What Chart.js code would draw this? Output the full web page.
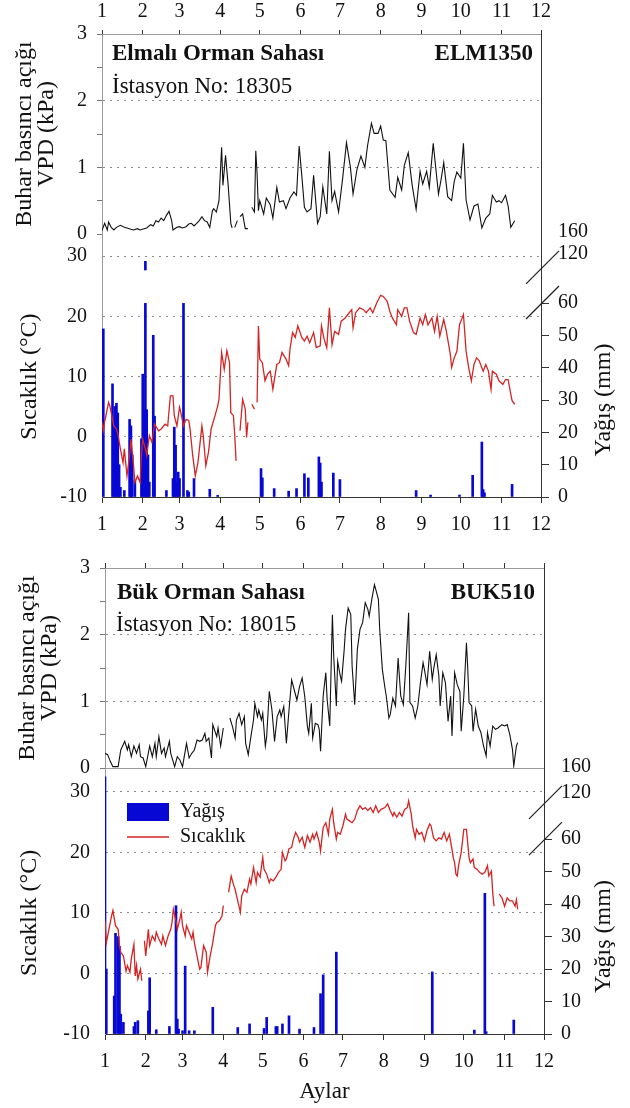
<!DOCTYPE html>
<html>
<head>
<meta charset="utf-8">
<script src="https://cdn.jsdelivr.net/npm/chart.js@4.4.1/dist/chart.umd.min.js"></script>
<style>
  body { margin: 0; background: #fff; }
  canvas { position: absolute; left: 0; }
</style>
</head>
<body>
<canvas id="elmVpdChart" width="630" height="250" style="top:0px"></canvas>
<canvas id="elmClimChart" width="630" height="320" style="top:212px"></canvas>
<canvas id="bukVpdChart" width="630" height="234" style="top:550px"></canvas>
<canvas id="bukClimChart" width="630" height="358" style="top:750px"></canvas>
<script>
// x axis = day of year (0 = 1 Jan), ticks on the first day of each month
const monthStarts = [0, 31, 59, 90, 120, 151, 181, 212, 243, 273, 304, 334];
const monthLabels = ['1', '2', '3', '4', '5', '6', '7', '8', '9', '10', '11', '12'];
const vpdTicks = [0, 0.5, 1, 1.5, 2, 2.5, 3];
const tempTicks = [-10, 0, 10, 20, 30];
const rainTicks = [0, 10, 20, 30, 40, 50, 60, 120, 160];

// Elmalı (ELM1350)
const elmVpdDays = [0,2,4,5,7,9,11,14,17,19,22,24,27,29,32,34,37,39,41,43,45,47,49,51,53,54,57,59,61,64,66,68,70,72,74,76,78,80,82,84,85,87,89,91,92,94,96,98,99,100,101,103,104,105,107,109,111,112,114,116,117,118,119,120,123,125,128,130,133,135,138,140,143,146,148,150,152,154,156,159,161,164,166,168,171,173,175,177,180,183,186,189,191,194,197,200,202,205,207,210,212,214,216,219,223,225,228,230,233,236,239,242,244,247,249,252,256,258,260,263,266,268,270,273,275,277,280,283,286,289,292,295,297,300,302,304,307,309,311,314];
const elmVpd = [.05,.16,.06,.18,.1,.06,.1,.13,.1,.09,.07,.06,.08,.06,.08,.09,.14,.12,.2,.18,.24,.2,.28,.34,.2,.06,.1,.11,.09,.11,.15,.16,.12,.16,.2,.26,.2,.18,.1,.35,.38,.33,.5,1.3,.73,1.18,.73,.16,.09,null,.1,.2,null,.26,.3,.08,.08,null,.4,.33,1.25,.9,.35,.5,.3,.54,.44,.24,.7,.48,.5,.38,.54,.63,.58,1.32,.88,.4,.33,.38,.88,.16,.26,.71,.3,1.24,.5,.64,.33,.82,1.37,1.0,.6,.97,1.17,1.0,1.32,1.66,1.51,1.51,1.62,1.41,1.4,.66,.55,.85,.66,1.03,1.22,.73,.37,.94,.75,.94,.7,1.36,.6,.82,1.07,.56,.5,.79,.93,.84,1.36,.51,.21,.42,.45,.09,.24,.3,.58,.48,.5,.47,.58,.42,.1,.2];

const elmTempDays = [0,1,2,3,5,6,7,9,11,12,14,16,17,19,21,22,24,25,27,29,30,31,33,34,36,38,40,43,45,48,50,52,54,55,57,59,60,62,64,66,67,69,71,73,76,77,79,81,83,86,88,89,91,93,95,97,98,100,101,102,103,105,107,109,110,111,112,114,116,117,118,119,120,122,124,126,128,130,133,135,137,140,142,143,145,147,149,152,154,156,158,161,163,166,167,169,171,173,175,177,180,182,185,187,190,191,193,196,199,201,204,206,209,212,214,217,219,221,224,225,228,230,232,234,237,239,242,244,246,248,251,253,255,257,260,262,265,266,268,270,272,274,275,277,279,281,283,285,287,290,292,294,296,297,300,302,305,307,309,311,312,314];
const elmTemp = [2.4,1.0,2.5,3.5,5.7,5.1,4.0,1.8,1.3,0.5,-2.0,-4.3,-2.0,-6.5,-3.1,-0.4,-4.8,-7.6,-6.5,-7.6,-3.1,-0.4,-2.0,-3.1,0.2,-0.9,2.1,1.0,1.3,2.1,1.8,6.8,6.8,3.5,1.8,4.9,4.0,1.8,2.9,2.7,1.3,-3.1,-6.5,-4.3,1.8,0.2,-4.8,-2.6,1.3,3.5,5.1,6.2,14.0,11.2,14.3,12.3,4.0,3.5,0.2,-4.0,null,1.0,6.2,4.6,-0.1,2.4,null,5.4,4.6,null,5.7,18.4,12.9,12.3,9.3,10.4,10.9,7.9,12.0,12.3,14.0,12.9,11.8,14.5,17.3,16.5,18.4,16.5,15.9,16.7,15.6,17.3,14.8,15.1,18.4,16.2,14.8,21.4,15.3,17.5,17.0,19.2,19.7,20.3,21.1,18.1,20.6,21.4,21.1,20.6,21.4,20.6,22.2,23.5,23.3,22.5,20.8,19.7,18.6,21.1,20.0,21.4,21.4,19.2,17.3,17.0,19.7,18.6,20.3,18.6,19.7,17.5,20.0,16.7,19.5,17.5,13.7,11.5,13.1,14.2,18.6,19.7,20.3,14.2,11.5,9.3,12.0,13.1,12.6,10.9,12.0,10.9,7.9,10.9,10.4,9.3,8.7,9.5,9.5,7.1,6.0,5.4];

const elmRainDays = [1,8,9,10,11,12,13,14,17,21,22,23,25,30,31,32,33,34,35,36,39,40,49,54,55,56,57,58,59,62,65,66,70,82,88,121,122,131,142,148,154,157,165,166,167,176,181,239,250,272,282,289,290,291,312];
const elmRain = [52,35,22,28,29,26,10,3,2,24,22,13,5,18,38,27,111,27,13,4.6,50,25,2,5.7,21.6,16,4.6,7.7,5.7,80,2,1.5,5.7,2.4,0.5,8.8,5.9,2.6,1.8,2.6,7.2,5.9,12.4,10.5,4.6,7.4,5.4,2,0.6,0.6,6.7,17,2.3,1.3,3.9];

// Bük (BUK510)
const bukVpdDays = [0,2,4,6,10,12,15,17,18,20,22,24,26,27,29,31,34,36,38,39,41,43,45,46,49,50,53,55,57,59,62,64,66,68,70,72,74,76,77,79,81,82,85,86,88,90,92,95,97,99,100,102,104,106,107,109,111,113,114,116,117,119,120,122,123,125,127,129,131,133,134,136,138,140,142,144,146,148,150,152,154,155,157,158,160,162,163,164,166,168,169,171,173,174,176,177,179,180,182,183,185,187,188,190,192,194,196,198,200,201,203,205,206,208,209,211,213,214,216,217,219,221,223,225,227,229,231,232,234,236,238,240,242,243,245,247,249,250,252,254,255,257,259,261,263,264,266,268,270,271,273,275,276,277,279,280,282,284,286,288,290,291,293,295,297,299,302,304,306,308,310,311,313,314];
const bukVpd = [.22,.2,.1,.02,.02,.27,.4,.27,.35,.17,.33,.22,.35,.17,.15,.02,.33,.17,.37,.17,.47,.22,.3,.17,.4,.22,.02,.17,.12,.02,.37,.15,.22,.27,.42,.4,.42,.52,.4,.45,.15,.65,.47,.6,.33,.6,null,.75,.62,.45,.72,.82,.65,.77,.37,.2,.47,.72,.97,.77,.87,.72,.82,.33,.47,1.15,.87,.4,.77,.87,.77,.92,.37,.87,1.32,1.17,1.02,1.22,1.35,1.07,.62,.52,.97,.45,.67,.65,.58,.25,1.08,1.43,1.03,.63,2.3,1.68,.93,1.6,1.38,1.3,1.78,2.08,2.4,2.3,1.53,.95,1.78,2.08,2.18,2.48,2.38,2.28,2.53,2.75,2.68,2.53,2.08,1.48,1.2,1.08,.75,.8,1.05,.93,1.65,1.08,.95,1.58,2.33,.98,.93,.75,.93,1.28,1.58,1.48,1.25,1.75,1.33,1.48,1.7,1.38,.93,1.43,1.28,.7,1.08,.48,1.43,1.25,1.15,.55,1.08,1.88,1.48,.98,.93,.55,.88,.63,.53,.33,.18,.53,.33,.63,.58,.6,.65,.63,.65,.5,.28,.03,.33,.38];

const bukTempDays = [0,1,3,5,6,8,10,11,12,14,16,17,19,20,22,23,24,25,27,28,29,30,31,33,34,36,38,39,41,43,44,46,48,50,51,52,54,55,57,58,59,61,62,64,66,67,68,70,72,73,75,77,78,80,82,84,85,87,89,90,92,94,96,98,99,101,103,104,106,108,110,111,113,115,116,118,120,121,123,125,126,128,130,132,134,135,137,138,140,142,143,145,147,148,150,152,154,156,158,159,161,163,164,165,166,168,170,171,173,174,176,177,179,181,183,184,186,188,190,192,194,196,198,200,202,204,206,208,210,213,215,217,219,220,222,224,226,228,230,231,233,234,236,237,239,241,243,245,247,248,250,252,254,256,258,260,262,264,265,266,267,268,269,271,273,275,277,278,280,281,283,285,287,289,291,292,294,295,296,298,300,302,304,306,308,310,312,313,314];
const bukTemp = [8.7,5.1,7.3,9.5,10.4,7.9,7.3,4.6,3.5,2.9,0.4,1.3,0.2,2.4,4.8,-0.4,1.3,-0.9,0.7,-1.2,null,5.4,2.9,7.3,4.6,6.2,5.4,6.8,5.7,4.8,6.2,4.6,6.2,7.3,8.4,10.6,8.7,7.3,9.0,10.1,7.9,6.2,7.9,6.8,5.7,6.8,5.1,2.9,0.7,1.0,4.6,3.5,0.2,2.9,5.1,7.9,8.4,8.7,9.5,11.2,null,13.4,16.1,14.5,13.9,12.0,10.1,12.8,13.9,13.4,15.6,14.8,17.5,15.0,16.7,15.9,19.2,17.2,16.4,15.0,15.6,15.3,15.9,16.7,17.2,20.0,18.6,18.9,20.6,20.8,21.9,23.3,22.5,21.7,22.5,20.8,22.8,21.7,23.0,22.2,23.3,21.7,20.2,22.2,24.1,24.9,23.0,25.5,27.1,24.9,22.2,23.3,23.0,24.4,26.3,25.5,25.2,24.9,25.5,26.9,27.7,27.1,27.4,26.9,27.4,26.6,27.7,26.6,27.1,27.4,28.0,26.9,26.0,26.6,25.8,26.6,26.0,27.1,27.4,28.5,26.3,24.4,22.4,23.8,23.0,23.3,21.9,23.6,24.7,24.4,22.4,21.9,22.4,22.2,23.3,21.9,23.0,20.5,19.1,18.3,16.4,16.1,17.8,20.0,23.8,23.8,19.1,18.3,18.9,17.5,17.2,16.7,16.4,16.7,17.8,16.1,16.9,13.3,11.1,null,13.1,12.5,11.1,12.5,12.0,12.0,11.1,12.2,10.6];

const bukRainDays = [0,1,7,8,10,11,12,14,22,23,25,33,34,39,49,54,55,56,59,61,64,68,82,101,110,121,123,130,131,135,140,148,159,164,166,176,249,281,289,290,311];
const bukRain = [145,20,11.7,31,30,27,6.1,3.6,2.3,3.6,4.1,7.1,17.3,1.3,2.3,39.5,4.6,1.5,1,20.9,1,1,8.2,2.0,3.1,1.7,5.1,2.3,2.3,3.1,5.6,1.5,2.0,12.4,18.2,25.2,19.1,1.2,43.3,0.7,4.3];

const FONT = '"Liberation Serif", "Times New Roman", serif';
const BLUE = '#0808d4';
const RED = '#d42424';
const GRID = '#8a8a8a';
Chart.defaults.font.family = FONT;
Chart.defaults.color = '#111';

const pts = (xs, ys) => xs.map((x, i) => ({ x: x, y: ys[i] }));
const zeroPad = s => { s.paddingLeft = s.paddingRight = s.paddingTop = s.paddingBottom = 0; };

// precipitation axis with a break between 60 and 120 mm
class BrokenScale extends Chart.LinearScale {
  toDecimal(v) {
    const o = this.options;
    if (v <= o.breakLow) return v / o.breakLow * o.fracLow;
    if (v <= o.breakHigh) return o.fracLow + (v - o.breakLow) / (o.breakHigh - o.breakLow) * (o.fracHigh - o.fracLow);
    return o.fracHigh + (v - o.breakHigh) / (this.max - o.breakHigh) * (1 - o.fracHigh);
  }
  getPixelForValue(v) {
    return this.getPixelForDecimal(this.toDecimal(v));
  }
  getValueForPixel(p) {
    const o = this.options;
    const t = this.getDecimalForPixel(p);
    if (t <= o.fracLow) return t / o.fracLow * o.breakLow;
    if (t <= o.fracHigh) return o.breakLow + (t - o.fracLow) / (o.fracHigh - o.fracLow) * (o.breakHigh - o.breakLow);
    return o.breakHigh + (t - o.fracHigh) / (1 - o.fracHigh) * (this.max - o.breakHigh);
  }
}
BrokenScale.id = 'broken';
BrokenScale.defaults = {};
Chart.register(BrokenScale);

const panelText = {
  id: 'panelText',
  afterDraw(chart, args, opts) {
    const ctx = chart.ctx;
    ctx.save();
    ctx.fillStyle = '#111';
    ctx.textBaseline = 'alphabetic';
    (opts.items || []).forEach(it => {
      ctx.font = (it.bold ? 'bold ' : '') + '23px ' + FONT;
      ctx.textAlign = it.align || 'left';
      ctx.fillText(it.text, it.x, it.y);
    });
    ctx.restore();
  }
};

// rotated axis titles centred on a value range of their scale
const sideTitles = {
  id: 'sideTitles',
  afterDraw(chart, args, opts) {
    const ctx = chart.ctx;
    (opts.items || []).forEach(it => {
      const s = chart.scales[it.scale];
      const yc = (s.getPixelForValue(it.from) + s.getPixelForValue(it.to)) / 2;
      ctx.save();
      ctx.translate(it.x, yc);
      ctx.rotate(-Math.PI / 2);
      ctx.font = '24px ' + FONT;
      ctx.fillStyle = '#111';
      ctx.textAlign = 'center';
      ctx.textBaseline = 'middle';
      ctx.fillText(it.text, 0, 0);
      ctx.restore();
    });
  }
};

const axisBreak = {
  id: 'axisBreak',
  afterDatasetDraw(chart, args, opts) {
    if (!opts.mask || args.meta.type !== 'bar') return;
    const s = chart.scales.yP, a = chart.chartArea;
    const yTop = s.getPixelForValue(opts.mask[1]);
    const yBot = s.getPixelForValue(opts.mask[0]);
    chart.ctx.save();
    chart.ctx.fillStyle = '#fff';
    chart.ctx.fillRect(a.left + 1, yTop, a.right - a.left - 2, yBot - yTop);
    chart.ctx.restore();
  },
  afterDraw(chart, args, opts) {
    const s = chart.scales.yP, ctx = chart.ctx, x = s.left;
    ctx.save();
    ctx.strokeStyle = '#222';
    ctx.lineWidth = 1.2;
    (opts.marks || []).forEach(v => {
      const y = s.getPixelForValue(v);
      ctx.beginPath();
      ctx.moveTo(x - 15, y + 16);
      ctx.lineTo(x + 18, y - 17);
      ctx.stroke();
    });
    ctx.restore();
  }
};

const boxLegend = {
  id: 'boxLegend',
  afterDraw(chart, args, opts) {
    if (!opts.show) return;
    const ctx = chart.ctx;
    const bar = chart.data.datasets[0], line = chart.data.datasets[1];
    ctx.save();
    ctx.fillStyle = bar.backgroundColor;
    ctx.fillRect(opts.x, opts.y, opts.w, opts.h);
    ctx.strokeStyle = line.borderColor;
    ctx.lineWidth = 1.5;
    ctx.beginPath();
    ctx.moveTo(opts.x, opts.y + opts.gap);
    ctx.lineTo(opts.x + opts.w, opts.y + opts.gap);
    ctx.stroke();
    ctx.font = '20px ' + FONT;
    ctx.fillStyle = '#111';
    ctx.textBaseline = 'middle';
    ctx.textAlign = 'left';
    ctx.fillText(bar.label, opts.x + opts.w + 11, opts.y + opts.h / 2);
    ctx.fillText(line.label, opts.x + opts.w + 11, opts.y + opts.gap);
    ctx.restore();
  }
};

function monthAxis(position, o) {
  return {
    type: 'linear', position: position, min: 0, max: 334, offset: false,
    afterBuildTicks: s => { s.ticks = monthStarts.map(v => ({ value: v })); },
    afterFit: s => { s.height = o.height; zeroPad(s); },
    ticks: {
      display: o.labels, autoSkip: false, maxRotation: 0, padding: o.pad || 0,
      font: { size: 20 }, callback: (v, i) => monthLabels[i]
    },
    grid: { drawOnChartArea: false, offset: false, drawTicks: o.tick > 0, tickLength: o.tick || 0, tickColor: '#333' },
    border: { display: true, color: o.line || '#333' },
    title: o.title
      ? { display: true, text: o.title, font: { size: 23 }, padding: { top: 0, bottom: 2 } }
      : { display: false }
  };
}

function vpdPanel(id, days, vals, cfg) {
  const scales = {
    x: monthAxis('top', { height: cfg.topH, labels: cfg.topLabels, tick: cfg.tick, pad: 6, line: '#9a9a9a' }),
    y: {
      type: 'linear', position: 'left', min: 0, max: 3,
      afterBuildTicks: s => { s.ticks = vpdTicks.map(v => ({ value: v })); },
      afterFit: s => { s.width = cfg.leftW; zeroPad(s); },
      ticks: { font: { size: 20 }, padding: 10, callback: v => (Number.isInteger(v) ? String(v) : '') },
      grid: {
        color: c => (c.tick && (c.tick.value === 1 || c.tick.value === 2) ? GRID : 'rgba(0,0,0,0)'),
        tickColor: '#777', tickLength: 5
      },
      border: { display: true, color: '#9a9a9a', dash: [2, 5] },
      title: {
        display: true, text: ['Buhar basıncı açığı', 'VPD (kPa)'],
        font: { size: 24, lineHeight: '22px' }, padding: { top: cfg.titlePad, bottom: 0 }
      }
    },
    yR: {
      type: 'linear', position: 'right', min: 0, max: 3,
      afterFit: s => { s.width = 630 - cfg.leftW - 439; zeroPad(s); },
      ticks: { display: false }, grid: { display: false },
      border: { display: true, color: '#333' }
    }
  };
  if (cfg.bottomLine) {
    scales.x2 = {
      type: 'linear', position: 'bottom', min: 0, max: 334,
      afterFit: s => { s.height = 0; zeroPad(s); },
      ticks: { display: false }, grid: { display: false },
      border: { display: true, color: '#9a9a9a' }
    };
  }
  return new Chart(document.getElementById(id), {
    type: 'line',
    data: {
      datasets: [{
        data: pts(days, vals), borderColor: '#111', borderWidth: 1.1,
        pointRadius: 0, tension: 0, spanGaps: false, xAxisID: 'x', yAxisID: 'y'
      }]
    },
    options: {
      responsive: false, animation: false, events: [],
      layout: { autoPadding: false, padding: { left: 0, right: 0, top: cfg.padTop, bottom: cfg.padBottom } },
      plugins: { legend: { display: false }, tooltip: { enabled: false }, panelText: { items: cfg.texts } },
      scales: scales
    },
    plugins: [panelText]
  });
}

function climatePanel(id, rainDays, rain, tempDays, temp, cfg) {
  return new Chart(document.getElementById(id), {
    type: 'bar',
    data: {
      datasets: [
        { type: 'bar', label: 'Yağış', data: pts(rainDays, rain), backgroundColor: BLUE,
          barThickness: 2, xAxisID: 'x', yAxisID: 'yP', order: 2 },
        { type: 'line', label: 'Sıcaklık', data: pts(tempDays, temp), borderColor: RED,
          borderWidth: 1.3, pointRadius: 0, tension: 0, spanGaps: false, xAxisID: 'x', yAxisID: 'yT', order: 1 }
      ]
    },
    options: {
      responsive: false, animation: false, events: [],
      layout: { autoPadding: false, padding: { left: 0, right: 0, top: cfg.padTop, bottom: 0 } },
      plugins: {
        legend: { display: false }, tooltip: { enabled: false },
        sideTitles: { items: [
          { scale: 'yT', text: 'Sıcaklık (°C)', x: 30, from: -10, to: 30 },
          { scale: 'yP', text: 'Yağış (mm)', x: 604, from: 0, to: 60 }
        ] },
        axisBreak: { marks: [60, cfg.markHigh], mask: cfg.mask },
        boxLegend: { show: cfg.legend, x: 127, y: 53, w: 42, h: 18, gap: 34 }
      },
      scales: {
        x: monthAxis('bottom', { height: cfg.bottomH, labels: true, tick: 6, pad: 10, title: cfg.xTitle }),
        yT: {
          type: 'linear', position: 'left', min: -10, max: cfg.tMax,
          afterBuildTicks: s => { s.ticks = tempTicks.map(v => ({ value: v })); },
          afterFit: s => { s.width = cfg.leftW; zeroPad(s); },
          ticks: { font: { size: 20 }, padding: 7 },
          grid: {
            color: c => (c.tick && c.tick.value > -10 ? GRID : 'rgba(0,0,0,0)'),
            tickColor: 'rgba(0,0,0,0)', tickLength: 8
          },
          border: { display: true, color: '#9a9a9a', dash: [2, 5] }
        },
        yP: {
          type: 'broken', position: 'right', min: 0, max: 160,
          breakLow: 60, breakHigh: 120, fracLow: cfg.fracLow, fracHigh: cfg.fracHigh,
          afterBuildTicks: s => { s.ticks = rainTicks.map(v => ({ value: v })); },
          afterFit: s => { s.width = 630 - cfg.leftW - 439; zeroPad(s); },
          ticks: { font: { size: 20 }, padding: 9 },
          grid: {
            drawOnChartArea: false, tickLength: 8,
            tickColor: c => (c.tick && c.tick.value > 60 ? 'rgba(0,0,0,0)' : '#333')
          },
          border: { display: true, color: '#333' }
        }
      }
    },
    plugins: [sideTitles, axisBreak, boxLegend]
  });
}

vpdPanel('elmVpdChart', elmVpdDays, elmVpd, {
  leftW: 102, topH: 34, topLabels: true, tick: 4, padTop: 0, padBottom: 16, titlePad: 14, bottomLine: false,
  texts: [
    { text: 'Elmalı Orman Sahası', x: 112, y: 60, bold: true },
    { text: 'ELM1350', x: 533, y: 60, bold: true, align: 'right' },
    { text: 'İstasyon No: 18305', x: 112, y: 93 }
  ]
});

climatePanel('elmClimChart', elmRainDays, elmRain, elmTempDays, elmTemp, {
  leftW: 102, padTop: 20, bottomH: 35, tMax: 34, fracLow: 0.732, fracHigh: 0.917,
  markHigh: 103, mask: [60, 100], legend: false, xTitle: null
});

vpdPanel('bukVpdChart', bukVpdDays, bukVpd, {
  leftW: 105, topH: 18, topLabels: false, tick: 5, padTop: 0, padBottom: 16, titlePad: 17, bottomLine: true,
  texts: [
    { text: 'Bük Orman Sahası', x: 117, y: 49, bold: true },
    { text: 'BUK510', x: 535, y: 49, bold: true, align: 'right' },
    { text: 'İstasyon No: 18015', x: 116, y: 81 }
  ]
});

climatePanel('bukClimChart', bukRainDays, bukRain, bukTempDays, bukTemp, {
  leftW: 105, padTop: 17, bottomH: 74, tMax: 34.1, fracLow: 0.730, fracHigh: 0.903,
  markHigh: 107, mask: null, legend: true, xTitle: 'Aylar'
});
</script>
</body>
</html>
